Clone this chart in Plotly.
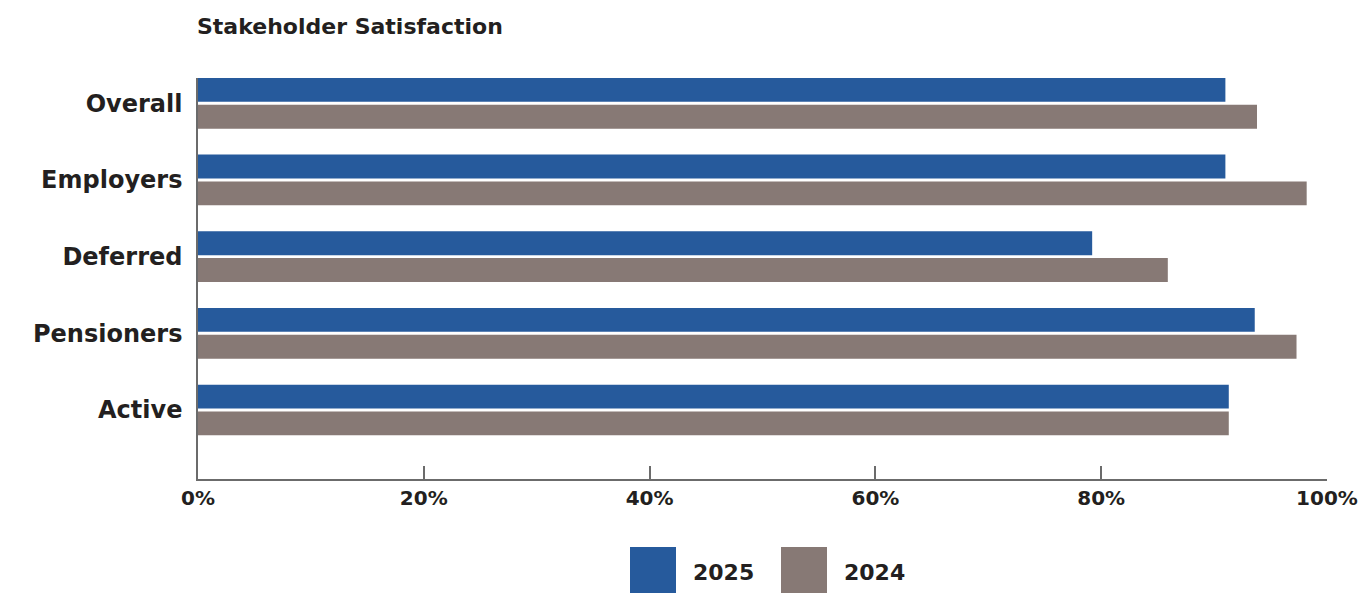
import plotly.graph_objects as go

# Stakeholder satisfaction by group, share satisfied (%)
categories = ["Overall", "Employers", "Deferred", "Pensioners", "Active"]
values_2025 = [91.0, 91.0, 79.2, 93.6, 91.3]
values_2024 = [93.8, 98.2, 85.9, 97.3, 91.3]
x_ticks = [0, 20, 40, 60, 80, 100]

BLUE = "#265A9C"
GREY = "#877975"
TEXT = "#231F20"
AXIS = "#6B6B6B"
FONT = "DejaVu Sans"

fig = go.Figure()
# 2024 added first so that the 2025 bar sits above it in each group
fig.add_trace(go.Bar(y=categories, x=values_2024, orientation="h", name="2024",
                     marker=dict(color=GREY, line=dict(width=0)), showlegend=False))
fig.add_trace(go.Bar(y=categories, x=values_2025, orientation="h", name="2025",
                     marker=dict(color=BLUE, line=dict(width=0)), showlegend=False))

fig.update_layout(
    width=1366, height=596,
    margin=dict(l=198, r=39, t=78, b=117, autoexpand=False),
    paper_bgcolor="white", plot_bgcolor="white",
    barmode="group", bargap=0.30, bargroupgap=0.11,
    font=dict(family=FONT, color=TEXT),
    title=dict(text="<b>Stakeholder Satisfaction</b>", x=197 / 1366, xanchor="left",
               y=1 - 26 / 596, yanchor="middle", font=dict(size=22, color=TEXT)),
    xaxis=dict(range=[0, 100], tickvals=x_ticks, ticktext=[f"<b>{v}%</b>" for v in x_ticks],
               showgrid=False, zeroline=False, showline=True, linecolor=AXIS, linewidth=1.5,
               ticks="inside", ticklen=13, tickcolor=AXIS, tickwidth=1.5, automargin=False,
               tickfont=dict(size=20, color=TEXT), fixedrange=True),
    yaxis=dict(type="category", categoryorder="array", categoryarray=categories[::-1],
               range=[-0.9, 4.33], showgrid=False, zeroline=False, showline=True,
               linecolor=AXIS, linewidth=1.5, ticks="", ticklabelstandoff=9, automargin=False,
               tickfont=dict(size=24, color=TEXT), fixedrange=True),
)
fig.update_yaxes(ticktext=[f"<b>{c}</b>" for c in categories[::-1]], tickvals=categories[::-1])

# Legend swatches below the axis
legend_items = [("2025", BLUE, 630), ("2024", GREY, 781)]
for label, color, x0 in legend_items:
    fig.add_shape(type="rect", xref="paper", yref="paper",
                  x0=(x0 - 198) / 1129, x1=(x0 + 46 - 198) / 1129,
                  y0=(479 - 593) / 401, y1=(479 - 547) / 401,
                  fillcolor=color, line=dict(width=0))
    fig.add_annotation(xref="paper", yref="paper", x=(x0 + 61 - 198) / 1129,
                       y=(479 - 572) / 401, xanchor="left", yanchor="middle",
                       text=f"<b>{label}</b>", showarrow=False,
                       font=dict(size=22, color=TEXT))

fig.write_html("out.html")
